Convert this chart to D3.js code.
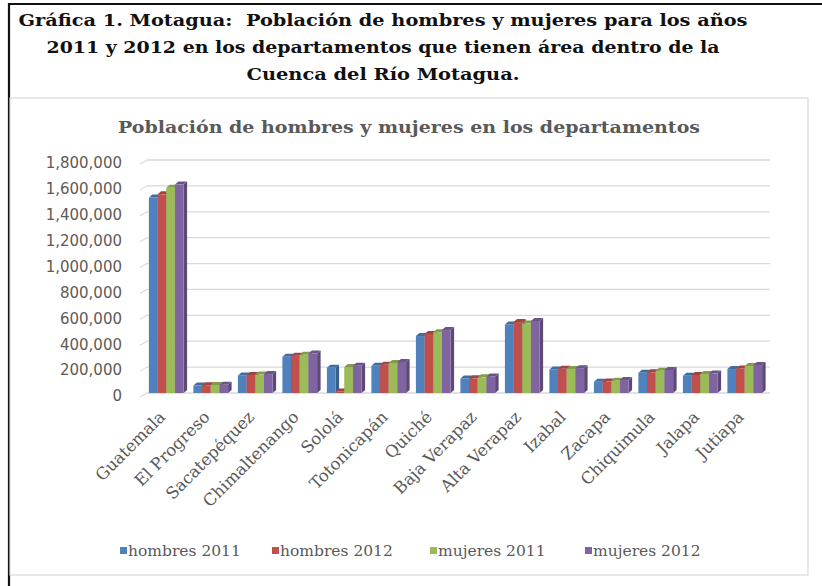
<!DOCTYPE html>
<html>
<head>
<meta charset="utf-8">
<script src="https://cdn.jsdelivr.net/npm/d3@7"></script>
<style>
  body { margin: 0; background: #fff; }
  svg { display: block; }
</style>
</head>
<body>
<div id="chart"></div>
<script>
// categories and series
var departamentos = ["Guatemala", "El Progreso", "Sacatepéquez", "Chimaltenango", "Sololá",
    "Totonicapán", "Quiché", "Baja Verapaz", "Alta Verapaz", "Izabal", "Zacapa",
    "Chiquimula", "Jalapa", "Jutiapa"];
var seriesNames = ["hombres 2011", "hombres 2012", "mujeres 2011", "mujeres 2012"];
var hombres2011 = [1510000, 58000, 136000, 280000, 196000, 210000, 440000, 112000, 530000, 182000, 86000, 156000, 133000, 185000];
var hombres2012 = [1535000, 60000, 139000, 288000, 12000, 218000, 456000, 113000, 548000, 188000, 89000, 160000, 139000, 190000];
var mujeres2011 = [1585000, 62000, 142000, 295000, 201000, 232000, 470000, 121000, 536000, 186000, 95000, 172000, 147000, 208000];
var mujeres2012 = [1610000, 64000, 146000, 305000, 210000, 240000, 486000, 128000, 556000, 192000, 100000, 178000, 150000, 217000];
var yTicks = [0, 200000, 400000, 600000, 800000, 1000000, 1200000, 1400000, 1600000, 1800000];

var colors = ["#4F81BD", "#C0504D", "#9BBB59", "#8064A2"];
var allSeries = [hombres2011, hombres2012, mujeres2011, mujeres2012];

var W = 822, H = 586;
var svg = d3.select("#chart").append("svg").attr("width", W).attr("height", H);

//outer black frame (runs off the right and bottom)
svg.append("path")
    .attr("d", "M9,590 L9,4 L830,4")
    .attr("fill", "none")
    .attr("stroke", "#111")
    .attr("stroke-width", 2.2);

//heading above the chart, widths matched to the original
var heading = ["Gráfica 1. Motagua:  Población de hombres y mujeres para los años",
    "2011 y 2012 en los departamentos que tienen área dentro de la",
    "Cuenca del Río Motagua."];
var headingWidth = [729, 673, 273];
svg.selectAll(".heading")
    .data(heading)
    .enter().append("text")
    .attr("class", "heading")
    .attr("x", 383)
    .attr("y", (d, i) => 26 + i * 27)
    .attr("text-anchor", "middle")
    .attr("textLength", (d, i) => headingWidth[i])
    .attr("lengthAdjust", "spacingAndGlyphs")
    .style("font-family", "'DejaVu Serif', serif")
    .style("font-weight", "bold")
    .style("font-size", "17.5px")
    .style("white-space", "pre")
    .attr("fill", "#111")
    .text(d => d);

//chart area frame
svg.append("rect")
    .attr("x", 10).attr("y", 98)
    .attr("width", 798).attr("height", 477)
    .attr("fill", "#fff")
    .attr("stroke", "#d9d9d9")
    .attr("stroke-width", 1.2);

svg.append("text")
    .attr("x", 409).attr("y", 133)
    .attr("text-anchor", "middle")
    .attr("textLength", 582)
    .attr("lengthAdjust", "spacingAndGlyphs")
    .style("font-family", "'DejaVu Serif', serif")
    .style("font-weight", "bold")
    .style("font-size", "17.5px")
    .attr("fill", "#595959")
    .text("Población de hombres y mujeres en los departamentos");

//scales
var x = d3.scaleBand().domain(departamentos).range([144, 767]).paddingInner(0.22).paddingOuter(0.11);
var xs = d3.scaleBand().domain(seriesNames).range([0, x.bandwidth()]);
var y = d3.scaleLinear().domain([0, 1800000]).range([393, 160]);

//grid lines with the little slanted side wall
var grid = svg.append("g");
yTicks.forEach(function(t) {
    grid.append("line")
        .attr("x1", 147).attr("x2", 770)
        .attr("y1", y(t)).attr("y2", y(t))
        .attr("stroke", "#d9d9d9").attr("stroke-width", 1.3);
    grid.append("line")
        .attr("x1", 140).attr("x2", 147)
        .attr("y1", y(t) + 4).attr("y2", y(t))
        .attr("stroke", "#d9d9d9").attr("stroke-width", 1.1);
});

//y axis labels
var yAxis = d3.axisLeft(y).tickValues(yTicks).tickSize(0).tickPadding(0)
    .tickFormat(d3.format(","));
svg.append("g")
    .attr("transform", "translate(122,3)")
    .call(yAxis)
    .call(g => g.select(".domain").remove())
    .selectAll("text")
    .style("font-family", "'DejaVu Sans', Verdana, sans-serif")
    .style("font-size", "15px")
    .attr("fill", "#5f5a55");

//3d looking columns
var dx = 3.5, dy = -3;
function shade(c, k) { return d3.color(c).darker(k).toString(); }

var bars = svg.append("g");
departamentos.forEach(function(dep, i) {
    allSeries.forEach(function(vals, s) {
        var x0 = x(dep) + xs(seriesNames[s]);
        var w = xs.bandwidth();
        var y0 = y(vals[i]);
        var h = y(0) - y0;
        var c = colors[s];
        //side
        bars.append("path")
            .attr("d", `M${x0 + w},${y0} L${x0 + w + dx},${y0 + dy} L${x0 + w + dx},${y0 + h + dy} L${x0 + w},${y0 + h} Z`)
            .attr("fill", shade(c, 0.9));
        //top
        bars.append("path")
            .attr("d", `M${x0},${y0} L${x0 + dx},${y0 + dy} L${x0 + w + dx},${y0 + dy} L${x0 + w},${y0} Z`)
            .attr("fill", shade(c, 0.5));
        //front
        bars.append("rect")
            .attr("x", x0).attr("y", y0)
            .attr("width", w).attr("height", h)
            .attr("fill", c);
    });
});

//category labels
svg.selectAll(".cat")
    .data(departamentos)
    .enter().append("text")
    .attr("class", "cat")
    .attr("text-anchor", "end")
    .attr("transform", d => `translate(${x(d) + x.bandwidth() / 2},${418}) rotate(-45)`)
    .style("font-family", "'DejaVu Serif', serif")
    .style("font-size", "16.5px")
    .attr("fill", "#595959")
    .text(d => d);

//legend
var legendX = [120, 272, 430, 585];
var legend = svg.append("g");
seriesNames.forEach(function(name, s) {
    legend.append("rect")
        .attr("x", legendX[s]).attr("y", 547)
        .attr("width", 7).attr("height", 7)
        .attr("fill", colors[s]);
    legend.append("text")
        .attr("x", legendX[s] + 8).attr("y", 556)
        .style("font-family", "'DejaVu Serif', serif")
        .style("font-size", "15.5px")
        .attr("fill", "#595959")
        .text(name);
});
</script>
</body>
</html>
